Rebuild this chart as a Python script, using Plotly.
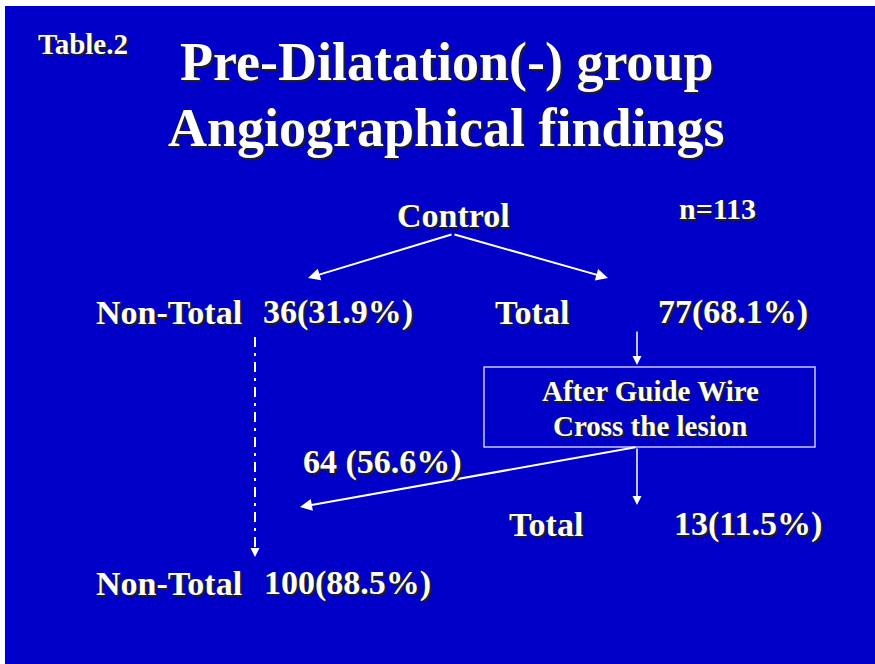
import plotly.graph_objects as go

# ---- data ----
n_total = 113
group_labels = ["Non-Total", "Total"]
control_counts = [36, 77]
control_pct = [31.9, 68.1]
after_wire_counts = [64, 13]
after_wire_pct = [56.6, 11.5]
final_count = 100
final_pct = 88.5
title_lines = ["Pre-Dilatation(-) group", "Angiographical findings"]
box_lines = ["After Guide Wire", "Cross the lesion"]

BLUE = "#0000c8"
FONT = "Liberation Serif, Times New Roman, serif"
SHADOW = "2px 2px 1px #202020"

fig = go.Figure()
fig.add_trace(go.Scatter(x=[0, 875], y=[0, 664], mode="markers",
                         marker=dict(opacity=0), hoverinfo="skip", showlegend=False))

def txt(x, y, text, size, anchor="left"):
    fig.add_annotation(x=x, y=y, xref="x", yref="y", text="<b>%s</b>" % text,
                       showarrow=False, xanchor=anchor, yanchor="middle",
                       font=dict(family=FONT, size=size, color="white", shadow=SHADOW))

def arrow(x0, y0, x1, y1, width=2):
    fig.add_annotation(x=x1, y=y1, ax=x0, ay=y0, xref="x", yref="y", axref="x", ayref="y",
                       text="", showarrow=True, arrowhead=2, arrowsize=1.2,
                       arrowwidth=width, arrowcolor="white", standoff=0, startstandoff=0)

# background
fig.add_shape(type="rect", x0=5, y0=6, x1=875, y1=664, xref="x", yref="y",
              fillcolor=BLUE, line=dict(width=0), layer="below")

# titles
txt(36, 44, "Table.2", 29)
txt(446, 62, title_lines[0], 54, "center")
txt(446, 128, title_lines[1], 54, "center")
txt(453, 215, "Control", 34, "center")
txt(677, 208, "n=%d" % n_total, 30)

# row 1
txt(94, 312, group_labels[0], 34)
txt(261, 312, "%d(%.1f%%)" % (control_counts[0], control_pct[0]), 34)
txt(493, 312, group_labels[1], 34)
txt(656, 312, "%d(%.1f%%)" % (control_counts[1], control_pct[1]), 34)

# control arrows
arrow(453, 234, 308, 278)
arrow(453, 234, 608, 278)

# down arrow to box
arrow(637, 330, 637, 365, 1.5)

# box
fig.add_shape(type="rect", x0=484, y0=367, x1=815, y1=447, xref="x", yref="y",
              line=dict(color="#c8c8ff", width=1.5))
txt(650, 391, box_lines[0], 29, "center")
txt(650, 426, box_lines[1], 29, "center")

# from box
arrow(637, 447, 300, 507)
arrow(637, 447, 637, 505, 1.5)

txt(301, 462, "%d (%.1f%%)" % (after_wire_counts[0], after_wire_pct[0]), 34)
txt(507, 524, group_labels[1], 34)
txt(672, 524, "%d(%.1f%%)" % (after_wire_counts[1], after_wire_pct[1]), 34)

# dash-dot line
fig.add_shape(type="line", x0=255, y0=337, x1=255, y1=550, xref="x", yref="y",
              line=dict(color="white", width=2, dash="10px,6px,3px,6px"))
arrow(255, 549, 255, 557, 1.5)

txt(94, 583, group_labels[0], 34)
txt(262, 583, "%d(%.1f%%)" % (final_count, final_pct), 34)

fig.update_xaxes(range=[0, 875], visible=False, fixedrange=True)
fig.update_yaxes(range=[664, 0], visible=False, fixedrange=True)
fig.update_layout(width=875, height=664, margin=dict(l=0, r=0, t=0, b=0),
                  paper_bgcolor="white", plot_bgcolor="white", showlegend=False)
fig.write_html("out.html", config={"displayModeBar": False},
               post_script="document.body.style.margin='0';document.body.style.overflow='hidden';")
